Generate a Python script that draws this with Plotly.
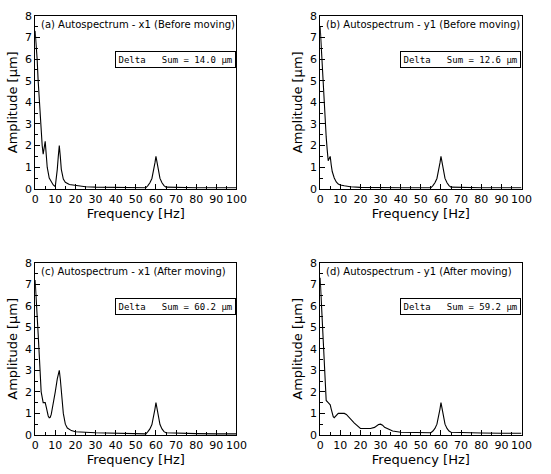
import plotly.graph_objects as go

# ---- data ----
freq_a = [0, 0.5, 1, 1.5, 2, 2.5, 3, 3.5, 4, 4.5, 5, 5.5, 6, 7, 8, 9, 10, 10.5, 11, 11.5, 12, 12.5, 13, 14, 15, 17, 20, 25, 30, 40, 50, 55, 56, 57, 58, 59, 59.5, 60, 60.5, 61, 62, 63, 64, 65, 70, 80, 90, 100]
amp_a = [7.3, 6.8, 6.0, 5.0, 4.1, 3.3, 2.6, 2.0, 1.6, 2.0, 2.2, 1.6, 1.0, 0.5, 0.3, 0.18, 0.1, 0.4, 0.9, 1.5, 2.0, 1.5, 0.9, 0.45, 0.3, 0.2, 0.15, 0.1, 0.08, 0.06, 0.05, 0.05, 0.15, 0.28, 0.48, 0.9, 1.2, 1.5, 1.2, 0.9, 0.48, 0.28, 0.15, 0.08, 0.06, 0.05, 0.05, 0.05]

freq_b = [0, 0.5, 1, 1.5, 2, 2.5, 3, 3.5, 4, 4.5, 5, 5.5, 6, 7, 8, 9, 10, 12, 15, 20, 30, 40, 50, 55, 56, 57, 58, 59, 59.5, 60, 60.5, 61, 62, 63, 64, 65, 70, 80, 90, 100]
amp_b = [7.5, 6.6, 5.6, 4.8, 4.0, 3.2, 2.4, 1.8, 1.3, 1.4, 1.5, 1.1, 0.8, 0.5, 0.32, 0.22, 0.18, 0.14, 0.1, 0.07, 0.05, 0.05, 0.05, 0.05, 0.15, 0.28, 0.48, 0.9, 1.2, 1.5, 1.2, 0.9, 0.48, 0.28, 0.15, 0.08, 0.06, 0.05, 0.05, 0.05]

freq_c = [0, 0.5, 1, 1.5, 2, 2.5, 3, 4, 5, 5.5, 6, 6.5, 7, 7.5, 8, 9, 10, 11, 12, 12.5, 13, 14, 15, 16, 18, 20, 30, 40, 50, 55, 56, 57, 58, 59, 59.5, 60, 60.5, 61, 62, 63, 64, 65, 70, 80, 90, 100]
amp_c = [7.2, 6.5, 5.6, 4.7, 3.8, 2.9, 2.0, 1.5, 1.5, 1.3, 1.05, 0.88, 0.8, 0.82, 0.95, 1.4, 2.0, 2.6, 3.0, 2.6, 2.0, 1.0, 0.5, 0.32, 0.2, 0.15, 0.1, 0.08, 0.06, 0.05, 0.15, 0.28, 0.48, 0.9, 1.2, 1.5, 1.2, 0.9, 0.48, 0.28, 0.15, 0.1, 0.08, 0.06, 0.05, 0.05]

freq_d = [0, 0.5, 1, 1.5, 2, 2.5, 3, 4, 5, 5.5, 6, 6.5, 7, 8, 9, 10, 12, 13, 15, 17, 20, 25, 27, 28, 29, 30, 31, 32, 34, 36, 40, 50, 55, 56, 57, 58, 59, 59.5, 60, 60.5, 61, 62, 63, 64, 65, 70, 80, 90, 100]
amp_d = [7.3, 6.3, 5.2, 4.2, 3.3, 2.4, 1.6, 1.5, 1.4, 1.2, 1.0, 0.85, 0.8, 0.92, 1.0, 1.0, 1.0, 0.95, 0.75, 0.55, 0.3, 0.3, 0.35, 0.42, 0.48, 0.5, 0.45, 0.35, 0.25, 0.18, 0.12, 0.1, 0.1, 0.18, 0.3, 0.5, 0.9, 1.2, 1.5, 1.2, 0.9, 0.5, 0.3, 0.18, 0.12, 0.1, 0.09, 0.08, 0.08]

titles = ["(a) Autospectrum - x1 (Before moving)", "(b) Autospectrum - y1 (Before moving)",
          "(c) Autospectrum - x1 (After moving)", "(d) Autospectrum - y1 (After moving)"]
sums = ["14.0", "12.6", "60.2", "59.2"]
x_ticks = [0, 10, 20, 30, 40, 50, 60, 70, 80, 90, 100]
y_ticks = [0, 1, 2, 3, 4, 5, 6, 7, 8]

W, H = 551, 474
# plot areas in pixels: (left, right, top, bottom)
boxes = [(32, 239, 10, 188), (325, 532, 10, 188), (32, 239, 264, 441), (325, 532, 264, 441)]
series = [(freq_a, amp_a), (freq_b, amp_b), (freq_c, amp_c), (freq_d, amp_d)]

fig = go.Figure()
font = "DejaVu Sans"
tickcommon = dict(ticks="inside", ticklen=5, tickwidth=1, tickcolor="black",
                  showgrid=False, zeroline=False)
for i, ((l, r, t, b), (fx, fy)) in enumerate(zip(boxes, series)):
    n = "" if i == 0 else str(i + 1)
    m = str(i + 5)  # overlay axes for top/right ticks
    fig.add_trace(go.Scatter(x=fx, y=fy, mode="lines", line=dict(color="black", width=1.1),
                             xaxis="x" + n, yaxis="y" + n, showlegend=False))
    axcommon = dict(showline=True, linecolor="black", linewidth=1, mirror=True, tickangle=0,
                    tickfont=dict(family=font, size=11, color="black"), **tickcommon)
    fig.update_layout(**{
        "xaxis" + n: dict(domain=[l / W, r / W], range=[0, 100], anchor="y" + n,
                          tickvals=x_ticks, minor=dict(ticks="inside", dtick=5, ticklen=3, tickcolor="black"),
                          title=dict(text="Frequency [Hz]", font=dict(family=font, size=13, color="black"), standoff=2),
                          **axcommon),
        "yaxis" + n: dict(domain=[1 - b / H, 1 - t / H], range=[0, 8], anchor="x" + n,
                          tickvals=y_ticks, minor=dict(ticks="inside", dtick=0.5, ticklen=3, tickcolor="black"),
                          title=dict(text="Amplitude [µm]", font=dict(family=font, size=13, color="black"), standoff=4),
                          **axcommon),
        "xaxis" + m: dict(overlaying="x" + n, side="top", anchor="y" + n, range=[0, 100],
                          tickvals=x_ticks, showticklabels=False, showline=False,
                          minor=dict(ticks="inside", dtick=5, ticklen=3, tickcolor="black"), **tickcommon),
        "yaxis" + m: dict(overlaying="y" + n, side="right", anchor="x" + n, range=[0, 8],
                          tickvals=y_ticks, showticklabels=False, showline=False,
                          minor=dict(ticks="inside", dtick=0.5, ticklen=3, tickcolor="black"), **tickcommon),
    })
    fig.add_annotation(x=0.02, y=0.995, xref="x" + n + " domain", yref="y" + n + " domain",
                       text=titles[i], showarrow=False, xanchor="left", yanchor="top",
                       font=dict(family=font, size=10, color="black"))
    fig.add_annotation(x=0.997, y=0.745, xref="x" + n + " domain", yref="y" + n + " domain",
                       text="Delta&nbsp;&nbsp;&nbsp;Sum = " + sums[i] + " µm", showarrow=False,
                       xanchor="right", yanchor="middle",
                       font=dict(family="DejaVu Sans Mono", size=9, color="black"),
                       bordercolor="black", borderwidth=1, borderpad=2.5, bgcolor="white")

fig.update_layout(width=W, height=H, margin=dict(l=0, r=0, t=0, b=0),
                  paper_bgcolor="white", plot_bgcolor="white")
fig.write_html("out.html")
